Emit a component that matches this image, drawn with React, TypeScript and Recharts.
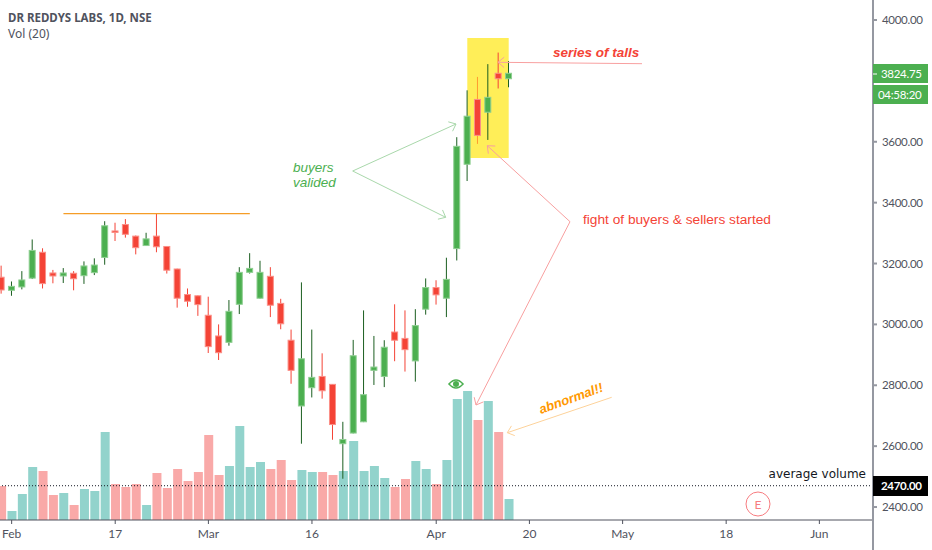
import {
  Bar,
  Cell,
  ComposedChart,
  ReferenceArea,
  ReferenceLine,
  XAxis,
  YAxis,
} from "recharts";

const opens = [3155, 3112, 3123, 3152, 3237, 3169, 3159, 3168, 3160, 3170, 3220, 3307, 3328, 3290, 3259, 3290, 3256, 3182, 3098, 3094, 3030, 2962, 2941, 3066, 3171, 3086, 3158, 3069, 2948, 2732, 2792, 2829, 2803, 2608, 2643, 2680, 2849, 2829, 2975, 2954, 2880, 3050, 3121, 3086, 3249, 3526, 3739, 3697, 3825, 3807];
const highs = [3193, 3141, 3175, 3279, 3250, 3179, 3185, 3175, 3207, 3217, 3339, 3334, 3346, 3292, 3301, 3365, 3257, 3183, 3118, 3095, 3091, 3000, 3080, 3188, 3234, 3209, 3188, 3084, 2983, 3138, 2983, 2905, 2804, 2680, 2949, 3046, 2962, 2948, 3066, 3046, 3050, 3151, 3145, 3219, 3615, 3769, 3813, 3855, 3893, 3865];
const lows = [3101, 3094, 3115, 3149, 3118, 3135, 3136, 3112, 3133, 3162, 3196, 3274, 3285, 3230, 3258, 3237, 3167, 3055, 3058, 3028, 2906, 2883, 2930, 3034, 3167, 3085, 3024, 2984, 2805, 2608, 2760, 2756, 2621, 2493, 2642, 2679, 2801, 2794, 2879, 2845, 2812, 3032, 3065, 3024, 3210, 3471, 3593, 3606, 3775, 3779];
const closes = [3113, 3125, 3146, 3243, 3134, 3159, 3169, 3150, 3192, 3195, 3324, 3302, 3296, 3252, 3281, 3255, 3178, 3086, 3076, 3065, 2927, 2907, 3043, 3171, 3184, 3171, 3063, 3002, 2849, 2887, 2826, 2782, 2671, 2622, 2897, 2769, 2860, 2925, 2948, 2917, 2996, 3121, 3097, 3148, 3585, 3684, 3621, 3746, 3807, 3825];
const volumes = [680, 180, 520, 1060, 980, 500, 540, 300, 620, 580, 1760, 720, 660, 720, 300, 940, 640, 1020, 780, 960, 1700, 900, 1080, 1880, 1060, 1160, 1020, 1200, 800, 1000, 960, 960, 900, 980, 1580, 980, 1080, 840, 660, 820, 1180, 1020, 720, 1200, 2420, 2580, 2000, 2380, 1760, 420];

const tickIndexes = [1, 11, 20, 30, 42, 51, 60, 70, 79];
const tickLabels = ["Feb", "17", "Mar", "16", "Apr", "20", "May", "18", "Jun"];
// 3800 sits under the last-price tag
const priceTicks = [2400, 2600, 2800, 3000, 3200, 3400, 3600, 4000];

const lastPrice = 3824.75;
const countdown = "04:58:20";
const averageLine = 2470;

const candles = opens.map((open, i) => ({
  i,
  open,
  high: highs[i],
  low: lows[i],
  close: closes[i],
  volume: volumes[i],
}));

const X_DOMAIN = [-0.1255, 84.18];
const GREEN = "#4caf50";
const RED = "#f44336";
const AXIS = "#50535e";
const FONT = "Lato, 'Open Sans', sans-serif";
const ARIAL = "'Liberation Sans', Arial, sans-serif";

function Candle(props: any) {
  const { x, y, width, height, payload } = props;
  const { open, close, high, low, i } = payload;
  const up = close >= open;
  const k = height / (high - low);
  const bodyTop = y + (high - Math.max(open, close)) * k;
  const bodyH = Math.max(Math.abs(close - open) * k, 1);
  const cx = x + width / 2;
  let wick = up ? "#1b5e20" : RED;
  if (i === 46) wick = "#ff9a2e";
  return (
    <g>
      <line x1={cx} x2={cx} y1={y} y2={y + height} stroke={wick} strokeWidth={1} />
      <rect
        x={x}
        y={bodyTop}
        width={width}
        height={bodyH}
        fill={up ? GREEN : RED}
        stroke={up ? "#8fcf92" : "#fb8f87"}
        strokeWidth={1}
      />
    </g>
  );
}

function Arrow({ from, to, color, head = 8 }: any) {
  const a = Math.atan2(to[1] - from[1], to[0] - from[0]);
  const wing = (d: number) => [
    to[0] - head * Math.cos(a + d),
    to[1] - head * Math.sin(a + d),
  ];
  const w1 = wing(0.7);
  const w2 = wing(-0.7);
  return (
    <g stroke={color} strokeWidth={1} fill="none">
      <line x1={from[0]} y1={from[1]} x2={to[0]} y2={to[1]} />
      <polyline points={`${w1[0]},${w1[1]} ${to[0]},${to[1]} ${w2[0]},${w2[1]}`} />
    </g>
  );
}

function Notes() {
  const lineGreen = "#a9d8ab";
  const lineRed = "#f8a0a0";
  const tagText = { fontFamily: FONT, fontSize: 11.5, letterSpacing: -0.3 };
  return (
    <svg
      width={932}
      height={550}
      style={{ position: "absolute", left: 0, top: 0, pointerEvents: "none" }}
    >
      <text x={8} y={22} fontFamily="'Noto Sans', sans-serif" fontSize={11.5} fontWeight={700} fill={AXIS}>
        DR REDDYS LABS, 1D, NSE
      </text>
      <text x={8} y={38} fontFamily="'Noto Sans', sans-serif" fontSize={12} fill={AXIS}>
        Vol (20)
      </text>

      <Arrow from={[352.7, 171]} to={[456, 124]} color={lineGreen} />
      <Arrow from={[352.7, 171]} to={[445.7, 217.3]} color={lineGreen} />
      <text x={293} y={172} fontFamily={ARIAL} fontSize={13.5} fontStyle="italic" fill={GREEN}>
        buyers
      </text>
      <text x={293} y={187} fontFamily={ARIAL} fontSize={13.5} fontStyle="italic" fill={GREEN}>
        valided
      </text>

      <Arrow from={[570, 221.7]} to={[487.3, 145.7]} color={lineRed} />
      <Arrow from={[570, 221.7]} to={[476, 405]} color={lineRed} />
      <text x={583} y={224} fontFamily={ARIAL} fontSize={13.7} fill={RED}>
        fight of buyers &amp; sellers started
      </text>

      <Arrow from={[642, 63.7]} to={[498, 62.3]} color={lineRed} />
      <text x={553} y={57} fontFamily={ARIAL} fontSize={13.5} fontWeight={700} fontStyle="italic" fill={RED}>
        series of talls
      </text>

      <Arrow from={[611.7, 397.3]} to={[507.3, 432.7]} color="#fdd29a" />
      <text
        x={541}
        y={414}
        fontFamily={ARIAL}
        fontSize={13}
        fontWeight={700}
        fontStyle="italic"
        fill="#ff9800"
        transform="rotate(-20 541 414)"
      >
        abnormal!!
      </text>

      <g>
        <path d="M449 384 Q456 376 463 384 Q456 392 449 384 Z" fill="none" stroke={GREEN} strokeWidth={1.6} />
        <circle cx={456} cy={384} r={3} fill={GREEN} />
      </g>

      <circle cx={758} cy={504} r={12} fill="#fff" stroke="#f77c80" strokeWidth={1} />
      <text x={758} y={508.5} textAnchor="middle" fontFamily={FONT} fontSize={12} fill="#f77c80">
        E
      </text>

      <text x={866} y={478} textAnchor="end" fontFamily="'DejaVu Sans', sans-serif" fontSize={12} fill="#131722">
        average volume
      </text>

      <line x1={873} x2={873} y1={520} y2={550} stroke="#9598a1" strokeWidth={2} />

      <rect x={873} y={64} width={55} height={19} fill={GREEN} />
      <rect x={873} y={85} width={55} height={19} fill={GREEN} />
      <line x1={873} x2={877} y1={74} y2={74} stroke="#fff" />
      <text x={881} y={78} {...tagText} fill="#fff">
        {lastPrice.toFixed(2)}
      </text>
      <text x={878} y={99} {...tagText} fill="#fff">
        {countdown}
      </text>

      <rect x={873} y={476} width={55} height={20} fill="#000" />
      <text x={881} y={490} {...tagText} fontWeight={700} fill="#fff">
        {averageLine.toFixed(2)}
      </text>
    </svg>
  );
}

export default function App() {
  return (
    <div style={{ position: "absolute", left: 0, top: 0, width: 932, height: 550, background: "#fff" }}>
      <ComposedChart
        width={932}
        height={550}
        data={candles}
        margin={{ top: 0, right: 0, bottom: 0, left: 0 }}
      >
        <XAxis
          dataKey="i"
          type="number"
          domain={X_DOMAIN}
          allowDataOverflow
          ticks={tickIndexes}
          interval={0}
          height={30}
          stroke={AXIS}
          tickSize={4}
          tickMargin={5}
          tick={{ fontSize: 12, fontFamily: FONT, fill: AXIS }}
          tickFormatter={(v: number) => tickLabels[tickIndexes.indexOf(v)]}
        />
        {/* second x axis so the volume and candle bars do not sit side by side */}
        <XAxis xAxisId="vol" dataKey="i" type="number" domain={X_DOMAIN} allowDataOverflow hide />
        <YAxis
          yAxisId="price"
          orientation="right"
          width={59}
          domain={[2357.4, 4065.7]}
          allowDataOverflow
          ticks={priceTicks}
          interval={0}
          stroke="#9598a1"
          strokeWidth={2}
          tickSize={4}
          tickMargin={5}
          tick={{ fontSize: 11.5, fontFamily: FONT, fill: AXIS, letterSpacing: -0.3 }}
          tickFormatter={(v: number) => v.toFixed(2)}
        />
        <YAxis yAxisId="vol" hide domain={[0, 10400]} />

        <ReferenceArea
          yAxisId="price"
          x1={45}
          x2={49}
          y1={3547}
          y2={3941}
          fill="#ffee58"
          fillOpacity={1}
          stroke="none"
        />
        <Bar xAxisId="vol" yAxisId="vol" dataKey="volume" barSize={9} isAnimationActive={false}>
          {candles.map((c) => (
            <Cell key={c.i} fill={c.close >= c.open ? "#92d3cc" : "#f9a9a8"} />
          ))}
        </Bar>
        <Bar
          yAxisId="price"
          dataKey={(d: any) => [d.low, d.high]}
          barSize={6}
          shape={Candle}
          isAnimationActive={false}
        />
        <ReferenceLine
          yAxisId="price"
          segment={[
            { x: 6, y: 3364 },
            { x: 24, y: 3364 },
          ]}
          stroke="#f59d27"
          strokeWidth={1.2}
        />
        <ReferenceLine
          yAxisId="price"
          y={averageLine}
          stroke="#131722"
          strokeDasharray="1 2"
          strokeWidth={1}
        />
      </ComposedChart>
      <Notes />
    </div>
  );
}
